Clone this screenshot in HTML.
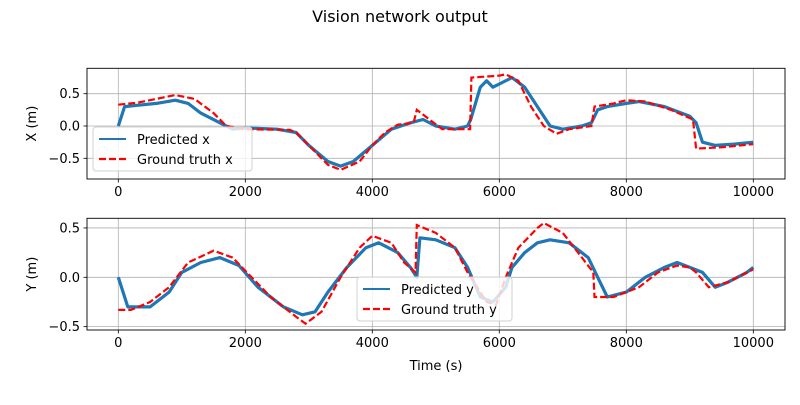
<!DOCTYPE html>
<html><head><meta charset="utf-8"><style>
body{margin:0;background:#fff;font-family:"Liberation Sans","DejaVu Sans",sans-serif}
svg text{font-family:"DejaVu Sans","Liberation Sans",sans-serif}
</style></head><body>
<svg id="c" width="800" height="400" xmlns="http://www.w3.org/2000/svg">
<text x="400" y="22" text-anchor="middle" font-size="16">Vision network output</text>
</svg>
<script>
const xTicks=[0,2000,4000,6000,8000,10000];
const topTicks=[0.5,0.0,-0.5];
const botTicks=[0.5,0.0,-0.5];
const gtxT=[0,300,600,900,1200,1500,1700,2000,2700,2800,3000,3300,3500,3800,4000,4200,4400,4650,4700,4900,5100,5540,5560,6000,6100,6300,6500,6700,6900,7100,7450,7500,7800,8000,8300,8700,9050,9100,9500,10000];
const gtxV=[0.33,0.36,0.42,0.48,0.42,0.2,0,-0.05,-0.06,-0.1,-0.3,-0.6,-0.68,-0.55,-0.3,-0.1,0.02,0.05,0.25,0.1,-0.05,-0.05,0.75,0.78,0.8,0.7,0.3,0,-0.12,-0.05,0,0.3,0.35,0.4,0.38,0.25,0.1,-0.35,-0.33,-0.28];
const pxT=[0,100,300,600,900,1100,1300,1600,1800,2000,2500,2800,3000,3300,3500,3700,4000,4300,4600,4800,5000,5300,5500,5550,5700,5800,5900,6000,6200,6400,6600,6800,7000,7300,7450,7550,7700,8000,8200,8600,9000,9100,9200,9400,9700,10000];
const pxV=[0,0.3,0.32,0.35,0.4,0.35,0.2,0.05,-0.05,-0.03,-0.05,-0.1,-0.3,-0.55,-0.62,-0.55,-0.3,-0.05,0.05,0.1,0,-0.05,0,0.1,0.6,0.7,0.6,0.65,0.75,0.6,0.3,0,-0.05,0,0.05,0.25,0.3,0.35,0.38,0.3,0.15,0.05,-0.25,-0.3,-0.28,-0.25];
const gtyT=[0,200,500,800,1100,1500,1800,2100,2400,2800,2950,3200,3500,3800,4000,4300,4500,4680,4700,5000,5300,5500,5800,5950,6100,6300,6600,6700,7000,7300,7480,7500,7800,8200,8500,8800,9000,9100,9300,9600,9900,10000];
const gtyV=[-0.33,-0.33,-0.25,-0.1,0.15,0.27,0.2,0,-0.2,-0.4,-0.47,-0.35,0,0.3,0.42,0.35,0.15,0.05,0.53,0.45,0.3,0.05,-0.25,-0.28,0,0.3,0.5,0.55,0.45,0.2,0.05,-0.2,-0.2,-0.1,0.05,0.12,0.1,0.05,-0.1,-0.05,0.05,0.08];
const pyT=[0,150,500,800,1000,1300,1600,1900,2200,2600,2900,3100,3300,3600,3900,4100,4400,4600,4700,4750,5000,5300,5500,5700,5900,6100,6200,6400,6600,6800,7100,7400,7550,7700,8000,8300,8600,8800,9000,9200,9400,9600,9900,10000];
const pyV=[0,-0.3,-0.3,-0.15,0.05,0.15,0.2,0.12,-0.1,-0.3,-0.38,-0.35,-0.15,0.1,0.3,0.35,0.25,0.1,0,0.4,0.38,0.3,0.1,-0.2,-0.25,-0.1,0.1,0.25,0.35,0.38,0.35,0.2,0,-0.2,-0.15,0,0.1,0.15,0.1,0.05,-0.1,-0.05,0.05,0.1];
const svg=document.getElementById('c');const NS='http://www.w3.org/2000/svg';
function mk(t,a,p){const e=document.createElementNS(NS,t);for(const k in a)e.setAttribute(k,a[k]);(p||svg).appendChild(e);return e;}
const X=t=>118.3+t*0.0635;
function panel(top,bot,zeroY,scale,ticks,ylabel,gT,gV,pT,pV,name,leg){
  const Y=v=>zeroY-v*scale;
  const g=mk('g',{});
  
  
  xTicks.forEach(t=>{const l=mk('line',{x1:X(t),x2:X(t),y1:top,y2:bot,stroke:'#b0b0b0','stroke-width':0.8},g);
    
    mk('line',{x1:X(t),x2:X(t),y1:bot,y2:bot+3.5,stroke:'#000','stroke-width':0.8},g);
    if(name==='bottom'||true){const tx=mk('text',{x:X(t),y:bot+17,'text-anchor':'middle','font-size':13},g);tx.textContent=t;
    }});
  ticks.forEach(v=>{const l=mk('line',{x1:87,x2:785,y1:Y(v),y2:Y(v),stroke:'#b0b0b0','stroke-width':0.8},g);
    
    mk('line',{x1:83.5,x2:87,y1:Y(v),y2:Y(v),stroke:'#000','stroke-width':0.8},g);
    const tx=mk('text',{x:80,y:Y(v)+4.5,'text-anchor':'end','font-size':13},g);tx.textContent=(v<0?'\u22120.5':v.toFixed(1));
    });
  const pd=pT.map((t,i)=>(i?'L':'M')+X(t).toFixed(1)+','+Y(pV[i]).toFixed(1)).join('');
  const pp=mk('path',{d:pd,fill:'none',stroke:'#1f77b4','stroke-width':3.2,'stroke-linejoin':'round'},g);
  
  const gd=gT.map((t,i)=>(i?'L':'M')+X(t).toFixed(1)+','+Y(gV[i]).toFixed(1)).join('');
  const gp=mk('path',{d:gd,fill:'none',stroke:'#ff0000','stroke-width':2.2,'stroke-dasharray':'7,3'},g);
  
  const fr=mk('rect',{x:87,y:top,width:698,height:bot-top,fill:'none',stroke:'#000','stroke-width':0.9},g);
  
  const yl=mk('text',{x:0,y:0,'text-anchor':'middle','font-size':13,transform:`translate(36,${(top+bot)/2}) rotate(-90)`},g);
  yl.textContent=ylabel;
  const lg=mk('g',{},g);
  mk('rect',{x:leg[0],y:leg[1],width:leg[2],height:44,rx:3,fill:'rgba(255,255,255,0.8)',stroke:'#d0d0d0'},lg);
  mk('line',{x1:leg[0]+6,x2:leg[0]+33,y1:leg[1]+12,y2:leg[1]+12,stroke:'#1f77b4','stroke-width':2},lg);
  mk('line',{x1:leg[0]+6,x2:leg[0]+33,y1:leg[1]+32,y2:leg[1]+32,stroke:'#ff0000','stroke-width':2.2,'stroke-dasharray':'7,3'},lg);
  const l1=mk('text',{x:leg[0]+44,y:leg[1]+17,'font-size':13},lg);l1.textContent='Predicted '+leg[3];
  
  const l2=mk('text',{x:leg[0]+44,y:leg[1]+37,'font-size':13},lg);l2.textContent='Ground truth '+leg[3];
  
}
panel(68.3,179,126,64.6,topTicks,'X (m)',gtxT,gtxV,pxT,pxV,'top',[93,127,159,'x']);
panel(218.3,330,277.3,98.7,botTicks,'Y (m)',gtyT,gtyV,pyT,pyV,'bottom',[357,277,155,'y']);
const xl=mk('text',{x:436,y:370,'text-anchor':'middle','font-size':13});
xl.textContent='Time (s)';


</script>
</body></html>
